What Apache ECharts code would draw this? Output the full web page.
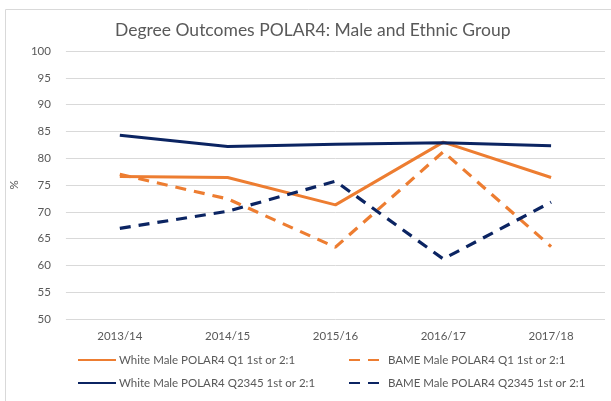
<!DOCTYPE html>
<html>
<head>
<meta charset="utf-8">
<script src="https://cdn.jsdelivr.net/npm/echarts@6/dist/echarts.min.js"></script>
<style>
  html, body { margin: 0; padding: 0; background: #fff; }
  #chart { width: 611px; height: 401px; }
</style>
</head>
<body>
<div id="chart"></div>
<script>
// Datos
const years = ['2013/14', '2014/15', '2015/16', '2016/17', '2017/18'];
const whiteQ1 = [76.6, 76.4, 71.3, 83.0, 76.4];
const bameQ1 = [77.0, 72.4, 63.4, 81.2, 63.5];
const whiteQ2345 = [84.3, 82.2, 82.6, 82.9, 82.3];
const bameQ2345 = [66.9, 70.1, 75.7, 61.2, 71.8];
const yTicks = { min: 50, max: 100, step: 5 };

const orange = '#ED7D31';
const navy = '#0B2462';
const font = 'Lato';

const chart = echarts.init(document.getElementById('chart'));

function legendAt(name, left, top, w) {
  return {
    data: [name],
    left: left,
    top: top,
    itemWidth: w,
    itemHeight: 10,
    padding: 0,
    itemGap: 0,
    itemStyle: { opacity: 0 },
    textStyle: { color: '#595959', fontSize: 11.5, fontFamily: font, padding: [0, 0, 0, -2] }
  };
}

const option = {
  animation: false,
  title: {
    text: 'Degree Outcomes POLAR4: Male and Ethnic Group',
    left: 115,
    top: 21,
    padding: 0,
    textStyle: { color: '#595959', fontSize: 17.5, fontWeight: 'normal', fontFamily: font }
  },
  graphic: [{
    type: 'rect',
    shape: { x: 5.5, y: 9.5, width: 620, height: 420 },
    style: { fill: 'none', stroke: '#d9d9d9', lineWidth: 1 },
    silent: true
  }],
  legend: [
    legendAt('White Male POLAR4 Q1 1st or 2:1', 77, 354, 38),
    legendAt('BAME Male POLAR4 Q1 1st or 2:1', 348, 354, 36),
    legendAt('White Male POLAR4 Q2345 1st or 2:1', 77, 377, 38),
    legendAt('BAME Male POLAR4 Q2345 1st or 2:1', 348, 377, 36)
  ],
  grid: { left: 52, right: 6, top: 51, bottom: 82 },
  xAxis: {
    type: 'category',
    data: years,
    boundaryGap: true,
    axisLine: { show: false },
    axisTick: { show: false },
    axisLabel: { color: '#595959', fontSize: 11.5, fontFamily: font, margin: 11 }
  },
  yAxis: {
    type: 'value',
    min: yTicks.min,
    max: yTicks.max,
    interval: yTicks.step,
    name: '%',
    nameLocation: 'middle',
    nameGap: 20,
    nameTextStyle: { color: '#595959', fontSize: 11.5, fontFamily: font },
    axisLine: { show: false },
    axisTick: { show: false },
    axisLabel: { color: '#595959', fontSize: 11.5, fontFamily: font, margin: 15 },
    splitLine: { lineStyle: { color: '#d9d9d9', width: 1 } }
  },
  series: [
    {
      name: 'White Male POLAR4 Q1 1st or 2:1',
      type: 'line', data: whiteQ1, symbol: 'none',
      itemStyle: { color: orange },
      lineStyle: { color: orange, width: 3 }
    },
    {
      name: 'BAME Male POLAR4 Q1 1st or 2:1',
      type: 'line', data: bameQ1, symbol: 'none',
      itemStyle: { color: orange },
      lineStyle: { color: orange, width: 3.2, type: [11, 8] }
    },
    {
      name: 'White Male POLAR4 Q2345 1st or 2:1',
      type: 'line', data: whiteQ2345, symbol: 'none',
      itemStyle: { color: navy },
      lineStyle: { color: navy, width: 3 }
    },
    {
      name: 'BAME Male POLAR4 Q2345 1st or 2:1',
      type: 'line', data: bameQ2345, symbol: 'none',
      itemStyle: { color: navy },
      lineStyle: { color: navy, width: 3.2, type: [11, 8] }
    }
  ]
};

chart.setOption(option);
</script>
</body>
</html>
